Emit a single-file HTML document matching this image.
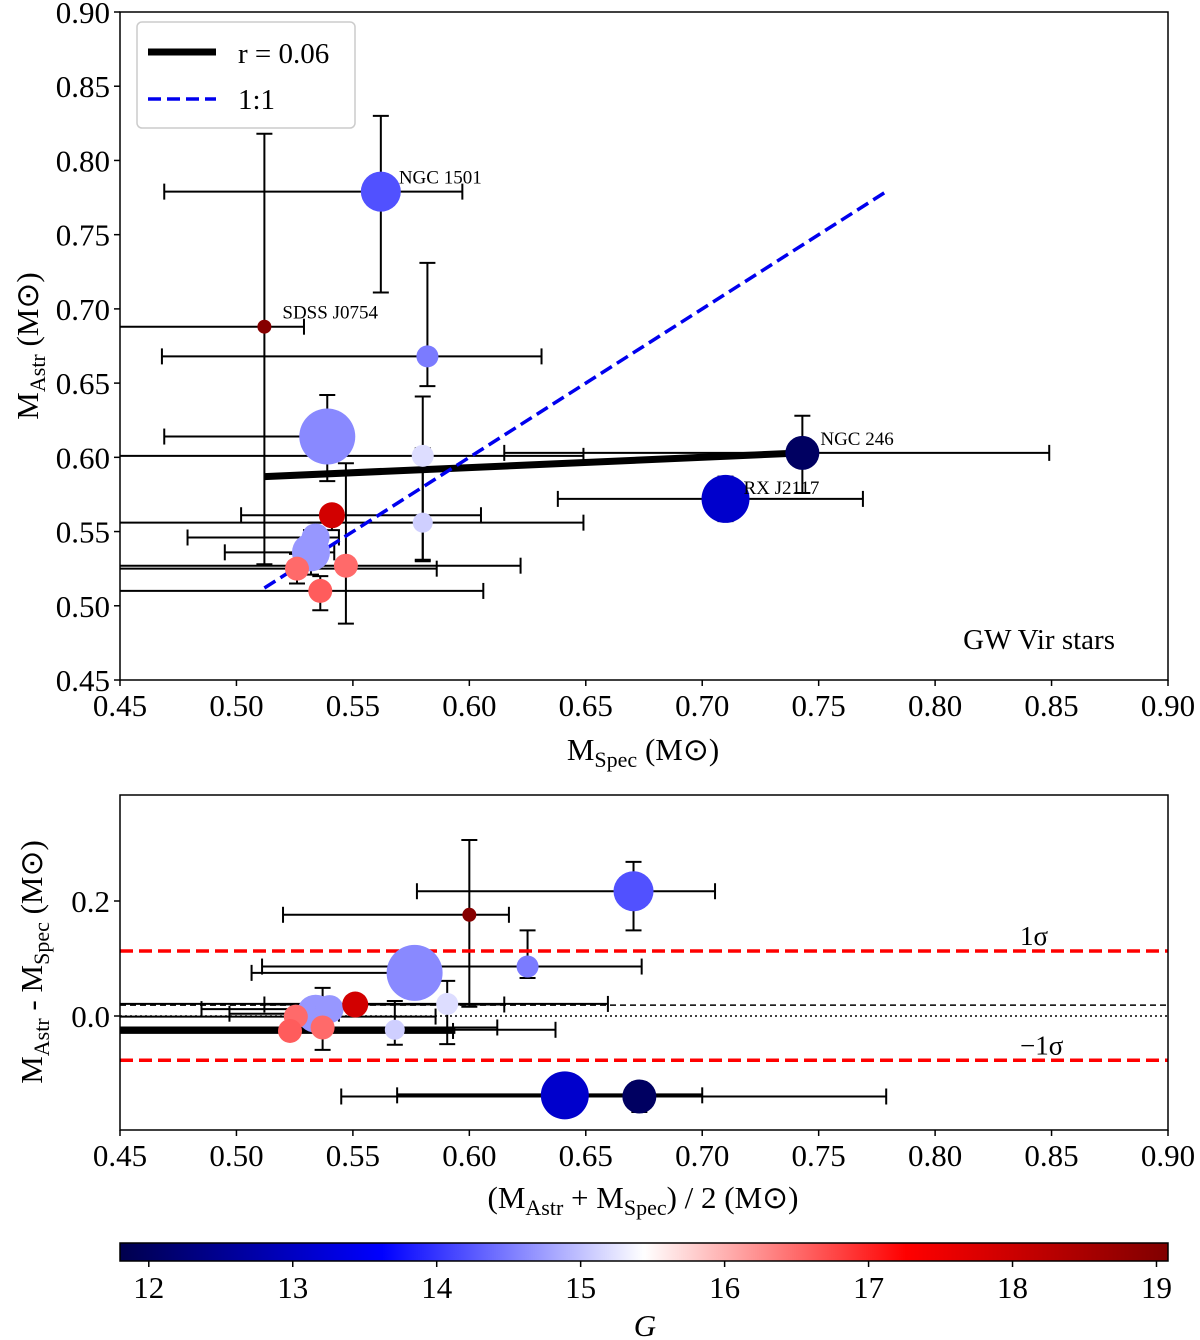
<!DOCTYPE html>
<html><head><meta charset="utf-8"><style>
body{margin:0;background:#fff}
svg{display:block;font-family:"Liberation Serif",serif}
</style></head><body>
<svg id="chart" width="1200" height="1340" viewBox="0 0 1200 1340" xmlns="http://www.w3.org/2000/svg">
<defs>
<linearGradient id="seis" x1="0" x2="1" y1="0" y2="0">
<stop offset="0" stop-color="#00004d"/><stop offset="0.25" stop-color="#0000ff"/><stop offset="0.5" stop-color="#ffffff"/><stop offset="0.75" stop-color="#ff0000"/><stop offset="1" stop-color="#800000"/>
</linearGradient>
</defs>
<g id="top"></g>
<g id="bot"></g>
<g id="cbar"></g>
</svg>
<script>
// data
const names = ["NGC 1501","SDSS J0754","","","","NGC 246","RX J2117","","","","","","",""];
const mSpec = [0.562,0.512,0.582,0.539,0.580,0.743,0.710,0.541,0.580,0.534,0.532,0.526,0.547,0.536];
const mSpecErrLo = [0.093,0.080,0.114,0.070,0.150,0.128,0.072,0.039,0.130,0.055,0.037,0.090,0.110,0.100];
const mSpecErrHi = [0.035,0.017,0.049,0.005,0.069,0.106,0.059,0.064,0.069,0.010,0.010,0.060,0.075,0.070];
const mAstr = [0.779,0.688,0.668,0.614,0.601,0.603,0.572,0.561,0.556,0.546,0.536,0.525,0.527,0.510];
const mAstrErrLo = [0.068,0.160,0.020,0.030,0.070,0.027,0.015,0.010,0.026,0.015,0.015,0.010,0.039,0.013];
const mAstrErrHi = [0.051,0.130,0.063,0.028,0.040,0.025,0.015,0.005,0.050,0.010,0.015,0.010,0.069,0.010];
const gMag = [14.2,19.0,14.5,14.6,15.2,12.0,13.1,17.9,15.1,14.7,14.7,16.5,16.5,16.6];
const radii = [20,7,11,28,11,17,24,13,10,14,19,12,12,12];
const fitLine = [[0.512,0.587],[0.743,0.603]];
const sigmaLines = [0.113,-0.077];
const meanOffset = 0.019;
const xTicks = [0.45,0.50,0.55,0.60,0.65,0.70,0.75,0.80,0.85,0.90];
const yTicksTop = [0.45,0.50,0.55,0.60,0.65,0.70,0.75,0.80,0.85,0.90];
const yTicksBot = [0.0,0.2];
const cTicks = [12,13,14,15,16,17,18,19];

const NS="http://www.w3.org/2000/svg";
function mk(parent,tag,attrs,text){const e=document.createElementNS(NS,tag);for(const k in attrs)e.setAttribute(k,attrs[k]);if(text!=null)e.textContent=text;parent.appendChild(e);return e;}
function lin(d0,d1,r0,r1){return v=>r0+(v-d0)/(d1-d0)*(r1-r0);}
function seismic(t){t=Math.max(0,Math.min(1,t));const st=[[0,0,0,77],[0.25,0,0,255],[0.5,255,255,255],[0.75,255,0,0],[1,128,0,0]];
for(let i=0;i<4;i++){if(t<=st[i+1][0]){const f=(t-st[i][0])/(st[i+1][0]-st[i][0]);return `rgb(${[1,2,3].map(j=>Math.round(st[i][j]+f*(st[i+1][j]-st[i][j]))).join(',')})`;}}return 'rgb(128,0,0)';}
const gMin=11.8,gMax=19.08;
const col=g=>seismic((g-gMin)/(gMax-gMin));

// ----- top panel
const T=document.getElementById('top');
const L=120,R=1168;
const xs=lin(0.45,0.90,L,R), ys=lin(0.45,0.90,680,12);
function clipX(v){return Math.max(L,Math.min(R,v));}
function errbar(g,cx,cy,x0,x1,y0,y1,w){
  let e=mk(g,'line',{x1:clipX(x0),x2:clipX(x1),y1:cy,y2:cy,stroke:'#000','stroke-width':w||2});
  
  if(x0>=L) mk(g,'line',{x1:x0,x2:x0,y1:cy-8,y2:cy+8,stroke:'#000','stroke-width':2});
  if(x1<=R) mk(g,'line',{x1:x1,x2:x1,y1:cy-8,y2:cy+8,stroke:'#000','stroke-width':2});
  e=mk(g,'line',{x1:cx,x2:cx,y1:y0,y2:y1,stroke:'#000','stroke-width':2});
  
  mk(g,'line',{x1:cx-8,x2:cx+8,y1:y0,y2:y0,stroke:'#000','stroke-width':2});
  mk(g,'line',{x1:cx-8,x2:cx+8,y1:y1,y2:y1,stroke:'#000','stroke-width':2});
}
function axes(g,yt,ysc,yfmt){
  xTicks.forEach(v=>{const x=xs(v);mk(g,'line',{x1:x,x2:x,y1:0,y2:6,stroke:'#000','stroke-width':1.5,transform:`translate(0,${g.dataset.bottom})`});
    const t=mk(g,'text',{x:x,y:+g.dataset.bottom+36,'text-anchor':'middle','font-size':31},v.toFixed(2));
    });
  yt.forEach(v=>{const y=ysc(v);mk(g,'line',{x1:L-6,x2:L,y1:y,y2:y,stroke:'#000','stroke-width':1.5});
    const t=mk(g,'text',{x:L-10,y:y+11,'text-anchor':'end','font-size':31},yfmt(v));
    });
}
T.dataset.bottom=680;
const order=[3,6,0,10,9,5,2,7,4,8,11,12,13,1];
const topErr=mk(T,'g',{});
for(let i=0;i<mSpec.length;i++){
  errbar(topErr,xs(mSpec[i]),ys(mAstr[i]),xs(mSpec[i]-mSpecErrLo[i]),xs(mSpec[i]+mSpecErrHi[i]),ys(mAstr[i]+mAstrErrHi[i]),ys(mAstr[i]-mAstrErrLo[i]));
}
let e=mk(T,'line',{x1:xs(fitLine[0][0]),y1:ys(fitLine[0][1]),x2:xs(fitLine[1][0]),y2:ys(fitLine[1][1]),stroke:'#000','stroke-width':7});

e=mk(T,'line',{x1:xs(0.512),y1:ys(0.512),x2:xs(0.78),y2:ys(0.78),stroke:'#0000ee','stroke-width':3.5,'stroke-dasharray':'13,6'});

order.forEach(i=>{
  const c=mk(T,'circle',{cx:xs(mSpec[i]),cy:ys(mAstr[i]),r:radii[i],fill:col(gMag[i])});
  
  if(names[i]){const t=mk(T,'text',{x:xs(mSpec[i])+18,y:ys(mAstr[i])-(i==6?5:8),'font-size':19},names[i]);
    }
});
e=mk(T,'rect',{x:L,y:12,width:R-L,height:668,fill:'none',stroke:'#000','stroke-width':1.5});

axes(T,yTicksTop,ys,v=>v.toFixed(2));
// legend
const lg=mk(T,'g',{});

mk(lg,'rect',{x:137,y:22,width:218,height:106,rx:5,fill:'#fff',stroke:'#ccc','stroke-width':1.5});
mk(lg,'line',{x1:148,x2:216,y1:52,y2:52,stroke:'#000','stroke-width':7});
e=mk(lg,'text',{x:238,y:63,'font-size':29},'r = 0.06');
mk(lg,'line',{x1:148,x2:216,y1:99,y2:99,stroke:'#0000ee','stroke-width':3.5,'stroke-dasharray':'13,6'});
e=mk(lg,'text',{x:238,y:109,'font-size':29},'1:1');
e=mk(T,'text',{x:1115,y:649,'text-anchor':'end','font-size':29},'GW Vir stars');

e=mk(T,'text',{x:643,y:760,'text-anchor':'middle','font-size':31});

e.innerHTML='M<tspan font-size="22" dy="7">Spec</tspan><tspan dy="-7"> (M</tspan><tspan>⊙</tspan>)';
e=mk(T,'text',{x:0,y:0,'text-anchor':'middle','font-size':31,transform:'translate(38,346) rotate(-90)'});

e.innerHTML='M<tspan font-size="22" dy="7">Astr</tspan><tspan dy="-7"> (M⊙)</tspan>';

// ----- bottom panel
const B=document.getElementById('bot');
B.dataset.bottom=1130;
const yb=lin(0,0.2,1016,901);
const bErr=mk(B,'g',{});
for(let i=0;i<mSpec.length;i++){
  const m=(mSpec[i]+mAstr[i])/2,d=mAstr[i]-mSpec[i];
  errbar(bErr,xs(m),yb(d),xs(m-mSpecErrLo[i]),xs(m+mSpecErrHi[i]),yb(d+mAstrErrHi[i]),yb(d-mAstrErrLo[i]),i==6?4:2);
}
sigmaLines.forEach((v,k)=>{const l=mk(B,'line',{x1:L,x2:R,y1:yb(v),y2:yb(v),stroke:'#ff0000','stroke-width':3.5,'stroke-dasharray':'13,6'});
  
  const t=mk(B,'text',{x:1020,y:yb(v)-6,'font-size':27},k?'−1σ':'1σ');});
e=mk(B,'line',{x1:L,x2:R,y1:yb(meanOffset),y2:yb(meanOffset),stroke:'#000','stroke-width':1.5,'stroke-dasharray':'6,4'});

e=mk(B,'line',{x1:L,x2:R,y1:yb(0),y2:yb(0),stroke:'#000','stroke-width':1.5,'stroke-dasharray':'2,3'});

e=mk(B,'line',{x1:L,x2:xs(0.594),y1:yb(-0.025),y2:yb(-0.025),stroke:'#000','stroke-width':7});

order.forEach(i=>{
  const m=(mSpec[i]+mAstr[i])/2,d=mAstr[i]-mSpec[i];
  const c=mk(B,'circle',{cx:xs(m),cy:yb(d),r:radii[i],fill:col(gMag[i])});
  
});
mk(B,'rect',{x:-5,y:780,width:L+5,height:360,fill:'#fff'});
e=mk(B,'rect',{x:L,y:795,width:R-L,height:335,fill:'none',stroke:'#000','stroke-width':1.5});

axes(B,yTicksBot,yb,v=>v.toFixed(1));
e=mk(B,'text',{x:643,y:1208,'text-anchor':'middle','font-size':31});

e.innerHTML='(M<tspan font-size="22" dy="7">Astr</tspan><tspan dy="-7"> + M</tspan><tspan font-size="22" dy="7">Spec</tspan><tspan dy="-7">) / 2 (M⊙)</tspan>';
e=mk(B,'text',{x:0,y:0,'text-anchor':'middle','font-size':31,transform:'translate(42,962) rotate(-90)'});

e.innerHTML='M<tspan font-size="22" dy="7">Astr</tspan><tspan dy="-7"> - M</tspan><tspan font-size="22" dy="7">Spec</tspan><tspan dy="-7"> (M⊙)</tspan>';

// ----- colorbar
const C=document.getElementById('cbar');
const cx=lin(gMin,gMax,120,1168);
e=mk(C,'rect',{x:120,y:1243,width:1048,height:18,fill:'url(#seis)',stroke:'#000','stroke-width':1.5});

cTicks.forEach(v=>{const x=cx(v);mk(C,'line',{x1:x,x2:x,y1:1261,y2:1267,stroke:'#000','stroke-width':1.5});
  const t=mk(C,'text',{x:x,y:1298,'text-anchor':'middle','font-size':31},v);});
e=mk(C,'text',{x:645,y:1336,'text-anchor':'middle','font-size':31,'font-style':'italic'},'G');

</script>
</body></html>
